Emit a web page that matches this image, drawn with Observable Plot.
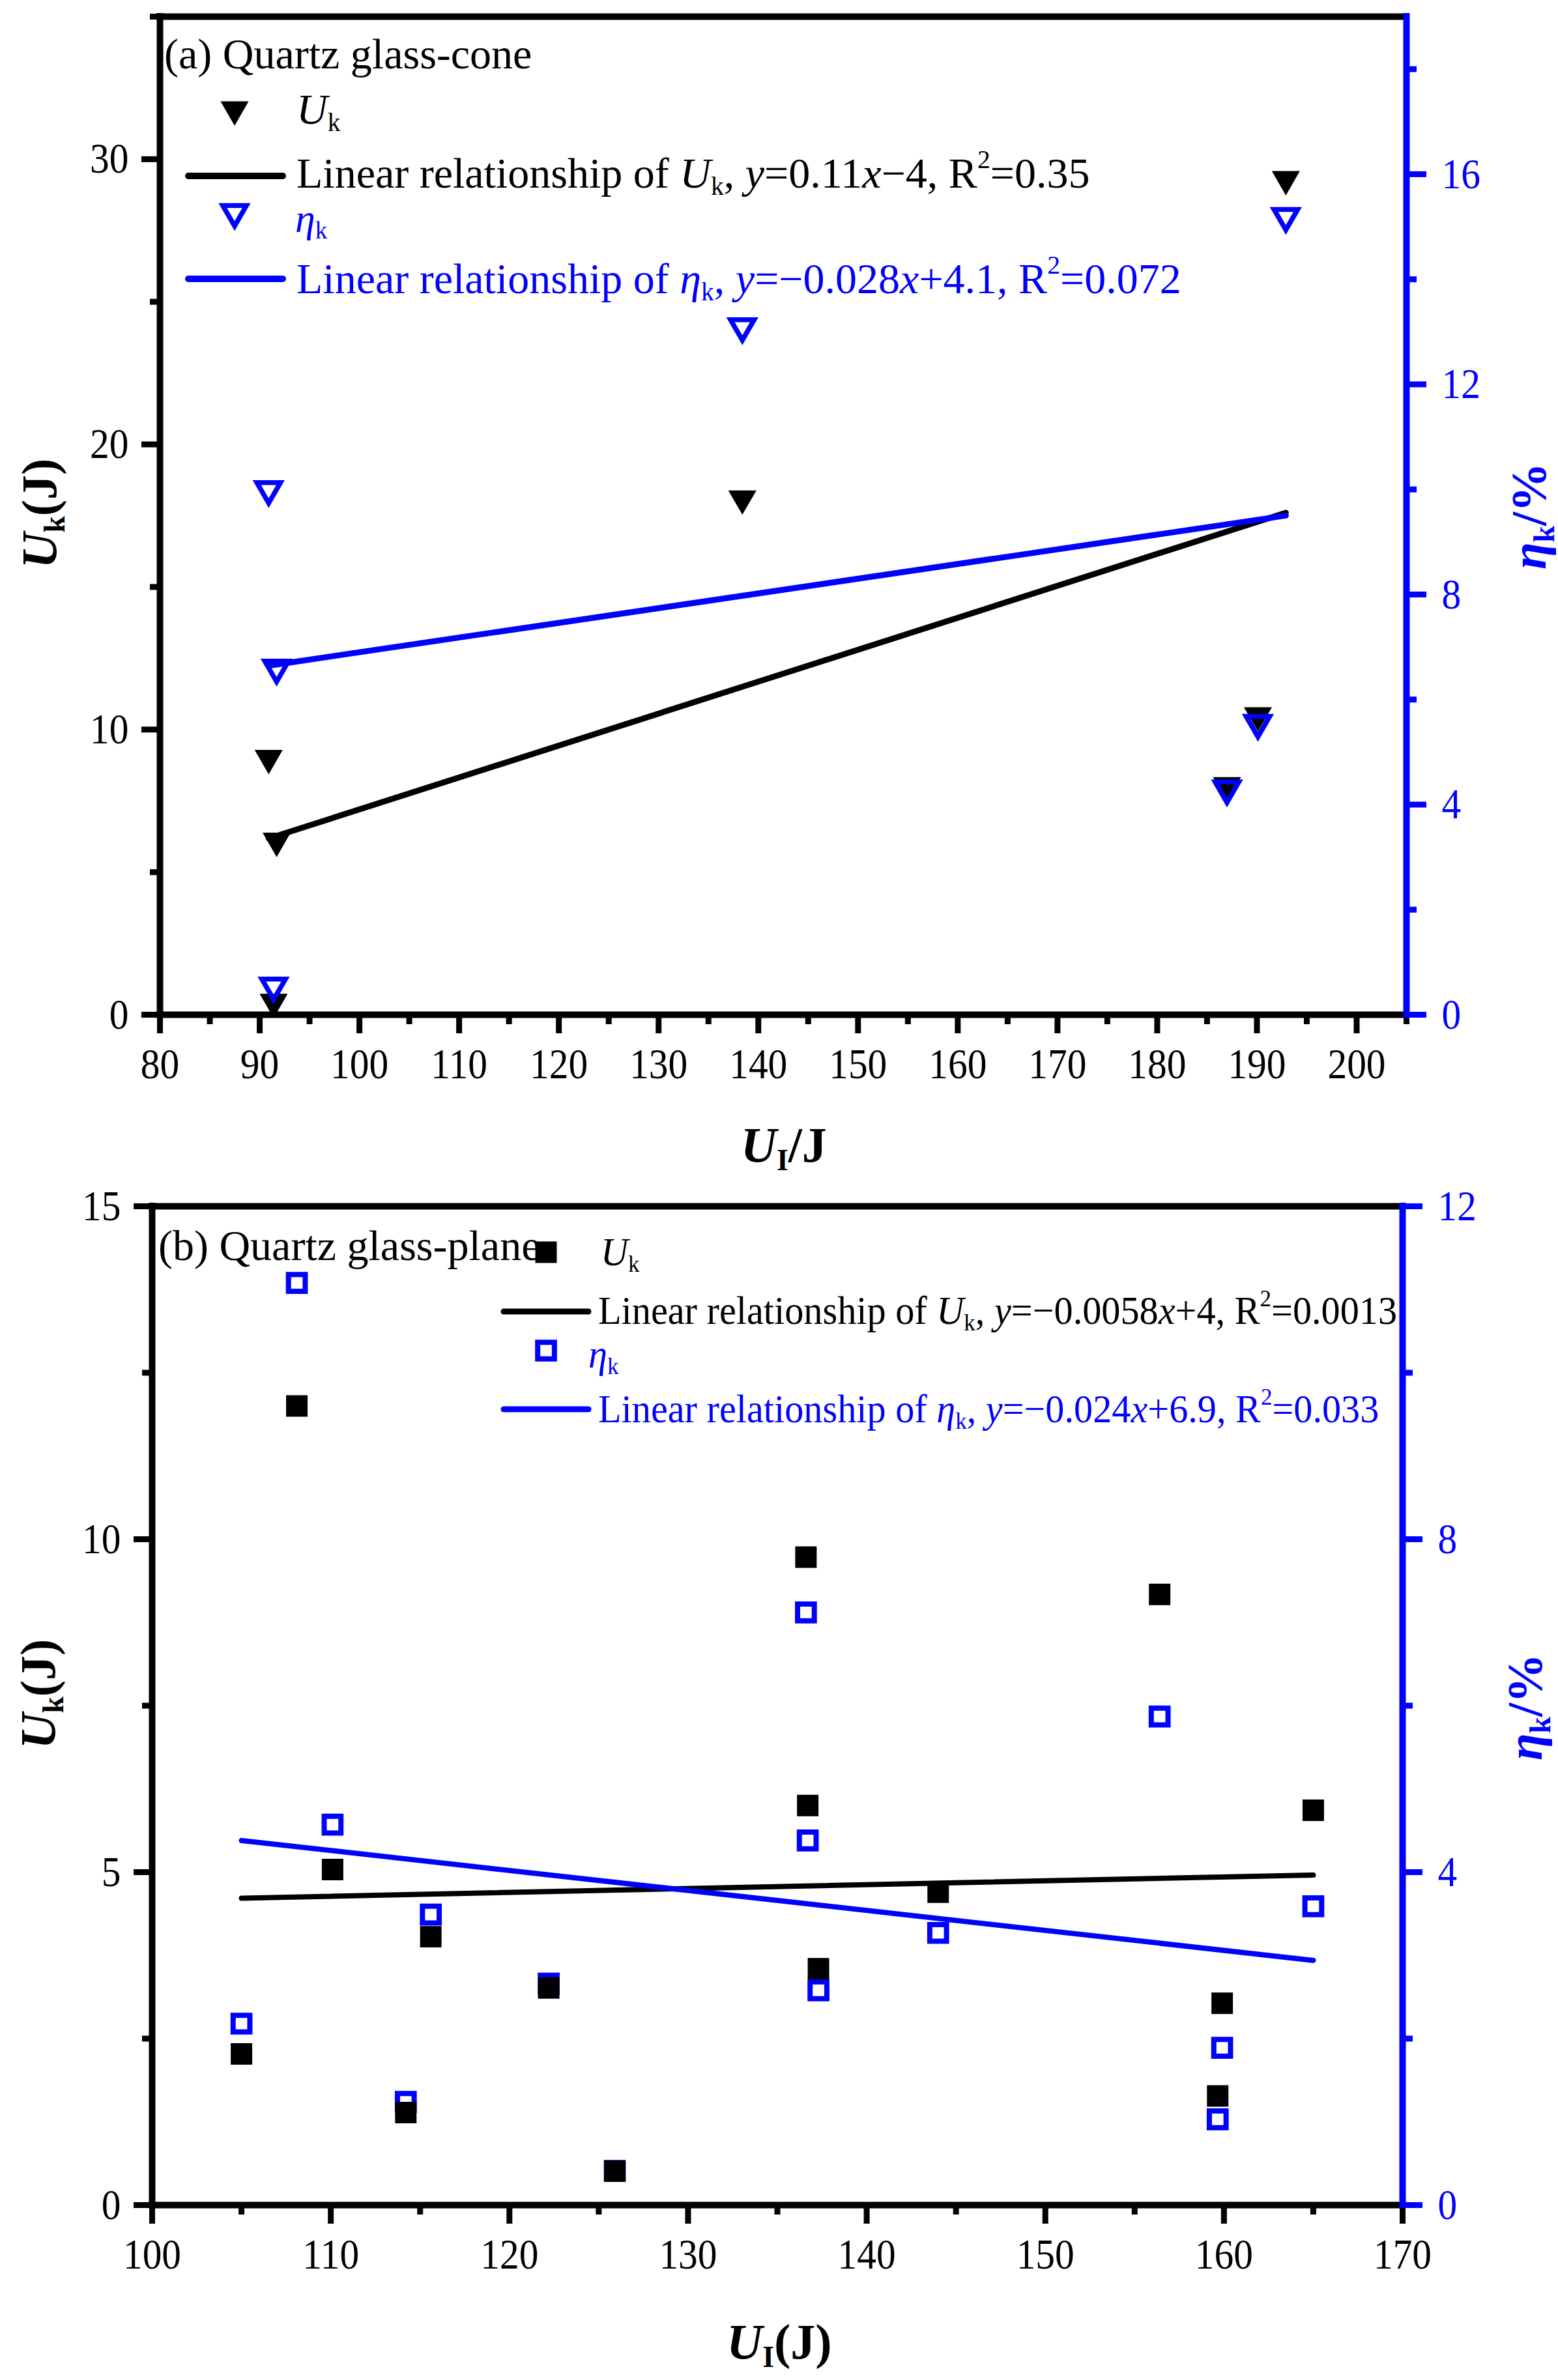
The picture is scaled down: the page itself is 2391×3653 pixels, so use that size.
<!DOCTYPE html>
<html>
<head>
<meta charset="utf-8">
<script src="https://cdn.jsdelivr.net/npm/d3@7"></script>
<script src="https://cdn.jsdelivr.net/npm/@observablehq/plot@0.6"></script>
<style>
  body { margin: 0; background: #fff; }
  #page { position: relative; width: 2391px; height: 3653px; background: #fff;
          font-family: "Liberation Serif", "DejaVu Serif", serif; }
  #page svg { display: block; }
  .pan { position: absolute; left: 0; }
  .lbl { position: absolute; white-space: nowrap; line-height: 0.8; font-size: 66px;
         transform-origin: left center; transform: translateY(-50%); }
  .lbl.nb { font-size: 61px; transform: translateY(-50%) scaleX(0.955); }
  .ax { position: absolute; white-space: nowrap; line-height: 0.8; font-size: 76px; font-weight: bold; transform: translate(-50%, -50%); }
  .rot { transform: translate(-50%, -50%) rotate(-90deg); }
  .blue { color: #0000ff; }
  sub { font-size: 0.6em; vertical-align: baseline; position: relative; top: 0.28em; }
  sup { font-size: 0.6em; vertical-align: baseline; position: relative; top: -0.75em; }
  #keys { position: absolute; left: 0; top: 0; pointer-events: none; }
</style>
</head>
<body>
<div id="page">
  <div id="panelA" class="pan" style="top:0"></div>
  <div id="panelB" class="pan" style="top:1800px"></div>

  <!-- (a) texts -->
  <div class="lbl" style="left:252px;top:83px">(a) Quartz glass-cone</div>
  <div class="lbl" style="left:455px;top:168px"><i>U</i><sub>k</sub></div>
  <div class="lbl" style="left:455px;top:266px">Linear relationship of <i>U</i><sub>k</sub>, <i>y</i>=0.11<i>x</i>&minus;4, R<sup>2</sup>=0.35</div>
  <div class="lbl blue" style="left:453px;top:336px;font-size:62px"><i>η</i><sub>k</sub></div>
  <div class="lbl blue" style="left:455px;top:428px">Linear relationship of <i>η</i><sub>k</sub>, <i>y</i>=&minus;0.028<i>x</i>+4.1, R<sup>2</sup>=0.072</div>
  <div class="ax rot" style="left:60px;top:788px"><i>U</i><sub>k</sub>(J)</div>
  <div class="ax rot blue" style="left:2346px;top:792px"><i>η</i><sub>k</sub>/%</div>
  <div class="ax" style="left:1203px;top:1757px"><i>U</i><sub>I</sub>/J</div>

  <!-- (b) texts -->
  <div class="lbl" style="left:243px;top:1912px">(b) Quartz glass-plane</div>
  <div class="lbl nb" style="left:922px;top:1922px"><i>U</i><sub>k</sub></div>
  <div class="lbl nb" style="left:918px;top:2012px">Linear relationship of <i>U</i><sub>k</sub>, <i>y</i>=&minus;0.0058<i>x</i>+4, R<sup>2</sup>=0.0013</div>
  <div class="lbl nb blue" style="left:903px;top:2079px"><i>η</i><sub>k</sub></div>
  <div class="lbl nb blue" style="left:918px;top:2163px">Linear relationship of <i>η</i><sub>k</sub>, <i>y</i>=&minus;0.024<i>x</i>+6.9, R<sup>2</sup>=0.033</div>
  <div class="ax rot" style="left:58px;top:2600px"><i>U</i><sub>k</sub>(J)</div>
  <div class="ax rot blue" style="left:2340px;top:2620px"><i>η</i><sub>k</sub>/%</div>
  <div class="ax" style="left:1196px;top:3594px"><i>U</i><sub>I</sub>(J)</div>

  <svg id="keys" width="2391" height="3653"></svg>
</div>
<script>
const blue = "#0000ff";

// (a) Quartz glass-cone
const uiA  = [90.9, 91.4, 91.7, 138.4, 187.0, 190.1, 192.9];
const ukA  = [9.0, 0.45, 6.1, 18.1, 8.05, 10.5, 29.3];
const etaA = [10.0, 0.55, 6.6, 13.1, 4.3, 5.55, 15.2];
const fitUkA  = [0.112, -4.0];   // slope, intercept of the drawn line
const fitEtaA = [0.028, 4.1];
const xDomA = [80, 205], yDomA = [0, 35], etaDomA = [0, 19];
const xTicksA = [80, 90, 100, 110, 120, 130, 140, 150, 160, 170, 180, 190, 200];
const xMinorA = [85, 95, 105, 115, 125, 135, 145, 155, 165, 175, 185, 195, 205];
const yTicksA = [0, 10, 20, 30];
const yMinorA = [5, 15, 25, 35];
const etaTicksA = [0, 4, 8, 12, 16];
const etaMinorA = [2, 6, 10, 14, 18];

// (b) Quartz glass-plane
const uiB  = [105.0, 108.1, 110.1, 114.2, 115.6, 122.2, 125.9, 136.6, 136.7, 137.3, 144.0, 156.4, 159.9, 159.65, 165.0];
const ukB  = [2.27, 12.0, 5.04, 1.39, 4.03, 3.26, 0.51, 9.73, 6.0, 3.55, 4.70, 9.17, 3.03, 1.64, 5.93];
const etaB = [2.18, 11.08, 4.57, 1.24, 3.49, 2.66, 0.41, 7.12, 4.38, 2.58, 3.27, 5.87, 1.89, 1.03, 3.59];
const fitUkB  = [0.0058, 4.0];
const fitEtaB = [-0.024, 6.9];
const xDomB = [100, 170], yDomB = [0, 15], etaDomB = [0, 12];
const xTicksB = [100, 110, 120, 130, 140, 150, 160, 170];
const xMinorB = [105, 115, 125, 135, 145, 155, 165];
const yTicksB = [0, 5, 10, 15];
const yMinorB = [2.5, 7.5, 12.5];
const etaTicksB = [0, 4, 8, 12];
const etaMinorB = [2, 6, 10];

function panel(o) {
  // eta goes on the right axis, drawn on the left scale
  const k = o.yDom[1] / o.etaDom[1];
  const pts = o.ui.map((ui, i) => ({ui, uk: o.uk[i], eta: o.eta[i] * k}));
  const ext = d3.extent(o.ui);
  const fitLine = (f, s) => ext.map(x => ({x, y: (f[0] * x + f[1]) * s}));
  const ax = {strokeWidth: 9, label: null, fontSize: 66, fontFamily: "Liberation Serif"};
  const frame = {strokeWidth: 10, strokeLinecap: "square"};

  const ukDots = Plot.dot(pts, {x: "ui", y: "uk", symbol: o.symbol, rotate: o.rotate, r: o.rFill, fill: "black"});
  const etaDots = Plot.dot(pts, {x: "ui", y: "eta", symbol: o.symbol, rotate: o.rotate, r: o.rHollow,
    fill: "none", stroke: blue, strokeWidth: o.sw});

  return Plot.plot({
    width: 2391,
    height: o.height,
    marginTop: o.mt, marginBottom: o.mb, marginLeft: o.ml, marginRight: o.mr,
    x: {domain: o.xDom},
    y: {domain: o.yDom},
    style: {fontFamily: "Liberation Serif", fontSize: "66px", background: "white", overflow: "visible"},
    marks: [
      Plot.axisX({ticks: o.xTicks, tickSize: 29, tickPadding: 22, ...ax}),
      Plot.axisX({ticks: o.xMinor, tickSize: 15, tickFormat: () => "", ...ax}),
      Plot.axisY({ticks: o.yTicks, tickSize: 28, tickPadding: 20, ...ax}),
      Plot.axisY({ticks: o.yMinor, tickSize: 15, tickFormat: () => "", ...ax}),
      Plot.axisY({anchor: "right", ticks: o.etaTicks.map(v => v * k), tickFormat: d => String(Math.round(d / k)),
        tickSize: 30, tickPadding: 24, color: blue, ...ax}),
      Plot.axisY({anchor: "right", ticks: o.etaMinor.map(v => v * k), tickFormat: () => "",
        tickSize: 15, color: blue, ...ax}),
      Plot.ruleY([o.yDom[1]], {stroke: "black", ...frame}),
      Plot.ruleX([o.xDom[0]], {stroke: "black", ...frame}),
      Plot.ruleY([o.yDom[0]], {stroke: "black", ...frame}),
      Plot.ruleX([o.xDom[1]], {stroke: blue, ...frame}),
      Plot.line(fitLine(o.fitUk, 1), {x: "x", y: "y", stroke: "black", strokeWidth: o.lw, strokeLinecap: "round"}),
      Plot.line(fitLine(o.fitEta, k), {x: "x", y: "y", stroke: blue, strokeWidth: o.lw, strokeLinecap: "round"}),
      ...(o.blackOnTop ? [etaDots, ukDots] : [ukDots, etaDots])
    ]
  });
}

// the original tick labels are a narrow Times face: squeeze them a little
function condense(svg, s) {
  d3.select(svg).selectAll("text").each(function() {
    const b = this.getBBox();
    const anchor = getComputedStyle(this).textAnchor;
    const ax = anchor === "end" ? b.x + b.width : anchor === "middle" ? b.x + b.width / 2 : b.x;
    const t = this.getAttribute("transform") || "";
    this.setAttribute("transform", `${t} translate(${ax},0) scale(${s},1) translate(${-ax},0)`);
  });
}

const chartA = panel({
  ui: uiA, uk: ukA, eta: etaA, fitUk: fitUkA, fitEta: fitEtaA,
  xDom: xDomA, yDom: yDomA, etaDom: etaDomA,
  xTicks: xTicksA, xMinor: xMinorA, yTicks: yTicksA, yMinor: yMinorA, etaTicks: etaTicksA, etaMinor: etaMinorA,
  height: 1800, mt: 25, mb: 243, ml: 245, mr: 233,
  symbol: "triangle", rotate: 180, rFill: 16, rHollow: 13.5, sw: 7.5, lw: 9, blackOnTop: false
});
d3.select("#panelA").append(() => chartA);
condense(chartA, 0.9);

const chartB = panel({
  ui: uiB, uk: ukB, eta: etaB, fitUk: fitUkB, fitEta: fitEtaB,
  xDom: xDomB, yDom: yDomB, etaDom: etaDomB,
  xTicks: xTicksB, xMinor: xMinorB, yTicks: yTicksB, yMinor: yMinorB, etaTicks: etaTicksB, etaMinor: etaMinorB,
  height: 1853, mt: 51, mb: 269, ml: 233, mr: 239,
  symbol: "square", rotate: 0, rFill: 18.6, rHollow: 14.5, sw: 8, lw: 8, blackOnTop: true
});
d3.select("#panelB").append(() => chartB);
condense(chartB, 0.9);

// legend keys
const keys = d3.select("#keys");
const sym = (type, r) => d3.symbol(type, Math.PI * r * r)();
function keyLine(x1, x2, y, color, w) {
  keys.append("line").attr("x1", x1).attr("x2", x2).attr("y1", y).attr("y2", y)
    .attr("stroke", color).attr("stroke-width", w).attr("stroke-linecap", "round");
}
keys.append("path").attr("d", sym(d3.symbolTriangle, 16)).attr("transform", "translate(360,168) rotate(180)").attr("fill", "black");
keyLine(289, 434, 270, "black", 10);
keys.append("path").attr("d", sym(d3.symbolTriangle, 13.5)).attr("transform", "translate(360,326) rotate(180)")
  .attr("fill", "none").attr("stroke", blue).attr("stroke-width", 7.5);
keyLine(289, 434, 428, blue, 10);

keys.append("path").attr("d", sym(d3.symbolSquare, 18.6)).attr("transform", "translate(838,1922)").attr("fill", "black");
keyLine(773, 903, 2013, "black", 9);
keys.append("path").attr("d", sym(d3.symbolSquare, 14.5)).attr("transform", "translate(838,2073)")
  .attr("fill", "none").attr("stroke", blue).attr("stroke-width", 8);
keyLine(773, 903, 2163, blue, 9);
</script>
</body>
</html>
